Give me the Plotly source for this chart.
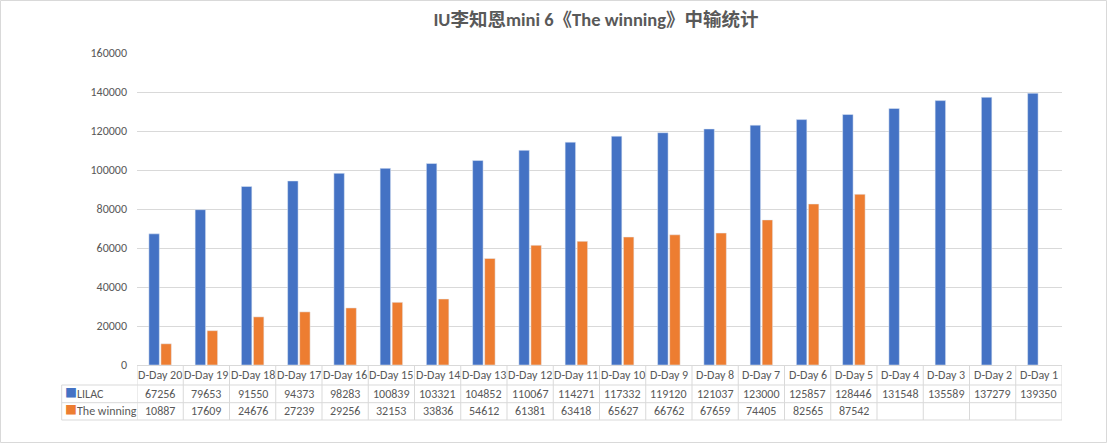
import plotly.graph_objects as go

categories = ["D-Day 20", "D-Day 19", "D-Day 18", "D-Day 17", "D-Day 16", "D-Day 15",
              "D-Day 14", "D-Day 13", "D-Day 12", "D-Day 11", "D-Day 10", "D-Day 9",
              "D-Day 8", "D-Day 7", "D-Day 6", "D-Day 5", "D-Day 4", "D-Day 3",
              "D-Day 2", "D-Day 1"]
lilac = [67256, 79653, 91550, 94373, 98283, 100839, 103321, 104852, 110067, 114271,
         117332, 119120, 121037, 123000, 125857, 128446, 131548, 135589, 137279, 139350]
winning = [10887, 17609, 24676, 27239, 29256, 32153, 33836, 54612, 61381, 63418,
           65627, 66762, 67659, 74405, 82565, 87542, None, None, None, None]
series_names = ["LILAC", "The winning"]
colors = ["#4472C4", "#ED7D31"]
title = "IU李知恩mini 6《The winning》中输统计"

W, H = 1108, 444
L, R, T, B = 137, 46, 53, 79
pw, ph = W - L - R, H - T - B

def py(p):  # pixel y -> paper y
    return (H - B - p) / ph

def px(p):  # pixel x -> paper x
    return (p - L) / pw

font = "Calibri, Carlito, 'Noto Sans CJK SC', 'Liberation Sans', sans-serif"
txt = "#595959"
grid = "#D9D9D9"
fs = 12

fig = go.Figure()
for name, vals, c in zip(series_names, [lilac, winning], colors):
    fig.add_trace(go.Bar(x=categories, y=vals, name=name, marker_color=c))

n = len(categories)
shapes = []
annotations = []
row_b = [365, 385, 402.7, 420]
for yb in row_b[1:]:
    shapes.append(dict(type="line", xref="paper", yref="paper", x0=px(61.7), x1=1,
                       y0=py(yb), y1=py(yb), line=dict(color=grid, width=1)))
shapes.append(dict(type="line", xref="paper", yref="paper", x0=px(61.7), x1=px(61.7),
                   y0=py(385), y1=py(420), line=dict(color=grid, width=1)))
for k in range(n + 1):
    shapes.append(dict(type="line", xref="x", yref="paper", x0=k - 0.5, x1=k - 0.5,
                       y0=0, y1=py(420), line=dict(color=grid, width=1)))
shapes.append(dict(type="rect", xref="paper", yref="paper", x0=px(0.5), x1=px(W - 1.5),
                   y0=py(0.5), y1=py(H - 1.5), line=dict(color=grid, width=1)))

row_c = [(row_b[i] + row_b[i + 1]) / 2 for i in range(3)]
for k, cat in enumerate(categories):
    annotations.append(dict(x=cat, y=py(row_c[0]), xref="x", yref="paper", text=cat,
                            xanchor="center", yanchor="middle", showarrow=False,
                            font=dict(size=fs, color=txt, family=font)))
    for r, vals in enumerate([lilac, winning]):
        if vals[k] is not None:
            annotations.append(dict(x=cat, y=py(row_c[r + 1]), xref="x", yref="paper",
                                    text=str(vals[k]), xanchor="center",
                                    yanchor="middle", showarrow=False,
                                    font=dict(size=fs, color=txt, family=font)))
for r, (name, c) in enumerate(zip(series_names, colors)):
    annotations.append(dict(x=px(63), y=py(row_c[r + 1]), xref="paper", yref="paper",
                            xanchor="left", yanchor="middle", showarrow=False,
                            text=f"<span style='color:{c}'>■</span>{name}",
                            font=dict(size=fs, color=txt, family=font)))

fig.update_layout(
    width=W, height=H,
    margin=dict(l=L, r=R, t=T, b=B),
    paper_bgcolor="white", plot_bgcolor="white",
    showlegend=False,
    barmode="group", bargap=0.48, bargroupgap=0.13,
    title=dict(text=f"<b>{title}</b>", x=596 / W, xanchor="center", y=1 - 20 / H,
               yanchor="middle", font=dict(size=18.5, color=txt, family=font)),
    xaxis=dict(showticklabels=False, showgrid=False, showline=True, linecolor=grid,
               ticks="", range=[-0.5, n - 0.5]),
    yaxis=dict(range=[0, 160000], dtick=20000, showgrid=True, gridcolor=grid,
               zeroline=False, showline=False, ticks="", ticklabelstandoff=9,
               tickformat="d", tickfont=dict(size=fs, color=txt, family=font)),
    shapes=shapes, annotations=annotations,
)
fig.write_html("out.html", config={"displayModeBar": False},
               post_script="document.body.style.margin='0';")
